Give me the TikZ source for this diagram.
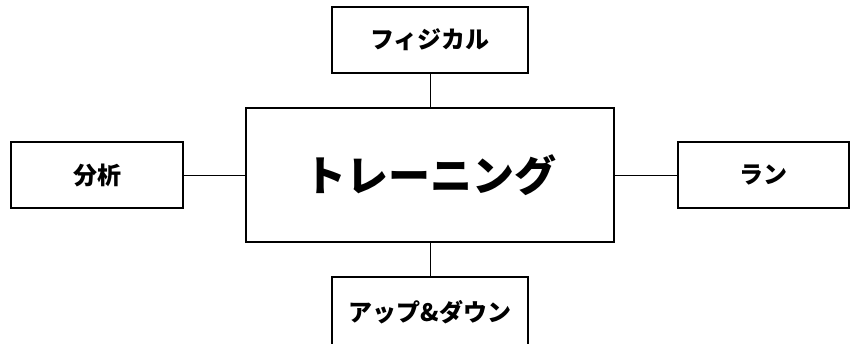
\documentclass[tikz,border=0pt]{standalone}
\usepackage{fontspec}
\usetikzlibrary{positioning}
\newfontfamily\jpfont{Noto Sans CJK JP}

\begin{document}
\begin{tikzpicture}[x=1pt,y=-1pt,
    subbox/.style={draw, line width=1.3pt, minimum width=196pt, minimum height=66pt,
        inner sep=0pt, font=\jpfont\bfseries\fontsize{24}{24}\selectfont},
    mainbox/.style={draw, line width=2.5pt, minimum width=368pt, minimum height=134pt,
        inner sep=0pt, font=\jpfont\bfseries\fontsize{42}{42}\selectfont}]
    \useasboundingbox (0,0) rectangle (857,343);

    % Draw centre box.
    \node[mainbox] (training) at (430,175) {トレーニング};

    % Draw outer boxes.
    \node[subbox] (physical) at (430,40) {フィジカル};
    \node[subbox, minimum height=70pt] (updown) at (430,312) {アップ\&ダウン};
    \node[subbox, minimum width=172pt] (analysis) at (97,175) {分析};
    \node[subbox, minimum width=171pt] (run) at (763.5,175) {ラン};

    % Draw links.
    \foreach \n in {physical,updown,analysis,run}
        \draw[line width=1pt] (\n) -- (training);
\end{tikzpicture}
\end{document}
